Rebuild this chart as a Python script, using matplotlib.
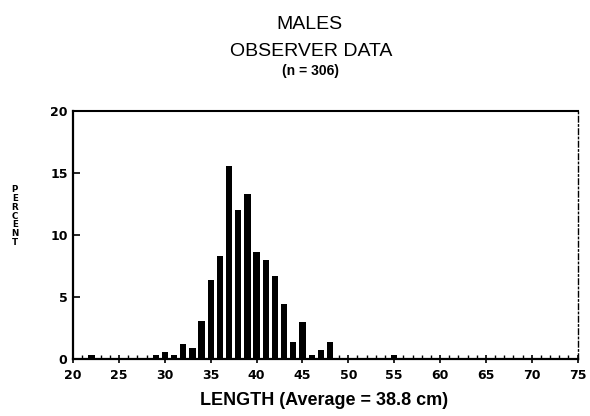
import numpy as np
import matplotlib.pyplot as plt
from matplotlib.ticker import MultipleLocator

# length bins (cm) with observed fish, and percent of sample in each
lengths = [22, 29, 30, 31, 32, 33, 34, 35, 36, 37, 38, 39, 40,
           41, 42, 43, 44, 45, 46, 47, 48, 55]
percent = [0.3, 0.3, 0.6, 0.3, 1.2, 0.9, 3.1, 6.4, 8.3, 15.6, 12.0, 13.3, 8.6,
           8.0, 6.7, 4.4, 1.4, 3.0, 0.3, 0.7, 1.4, 0.3]

n_fish = 306
avg_len = 38.8
yticks = [0, 5, 10, 15, 20]
xticks = [20, 25, 30, 35, 40, 45, 50, 55, 60, 65, 70, 75]

fig = plt.figure(figsize=(5.9, 4.16), dpi=100)
ax = fig.add_axes([0.124, 0.137, 0.855, 0.596])

ax.bar(lengths, percent, width=0.68, color="black", zorder=3)

ax.set_xlim(20, 75)
ax.set_ylim(0, 20)
ax.set_xticks(xticks)
ax.set_yticks(yticks)
ax.xaxis.set_minor_locator(MultipleLocator(1))

tick_font = dict(family="DejaVu Sans", weight="bold", size=9)
ax.set_xticklabels([str(v) for v in xticks], **tick_font)
ax.set_yticklabels([str(v) for v in yticks], **tick_font)
ax.tick_params(axis="x", which="major", direction="inout", length=6, width=1.2, pad=4)
ax.tick_params(axis="x", which="minor", direction="in", length=3, width=1.0)
ax.tick_params(axis="y", which="major", direction="in", length=5, width=1.2, pad=4)

for side in ("left", "bottom"):
    ax.spines[side].set_linewidth(1.6)
ax.spines["top"].set_linewidth(1.5)
ax.spines["right"].set_linewidth(1.0)
ax.spines["right"].set_linestyle((0, (4, 2, 1, 2)))

# titles
title_font = dict(family=["Liberation Sans Narrow", "Liberation Sans"], size=14)
fig.text(0.524, 0.942, "MALES", ha="center", va="center", **title_font)
fig.text(0.527, 0.877, "OBSERVER DATA", ha="center", va="center", **title_font)
fig.text(0.527, 0.829, f"(n = {n_fish})", ha="center", va="center",
         family="Liberation Sans", weight="bold", size=10)

fig.text(0.55, 0.038, f"LENGTH (Average = {avg_len} cm)", ha="center", va="center",
         family="Liberation Sans", weight="bold", size=13)

# stacked y-axis label
for i, ch in enumerate("PERCENT"):
    fig.text(0.025, 1 - (190 + i * 8.7) / 416, ch, ha="center", va="center",
             family="DejaVu Sans", weight="bold", size=6.3)

fig.savefig("out.png", dpi=100)
